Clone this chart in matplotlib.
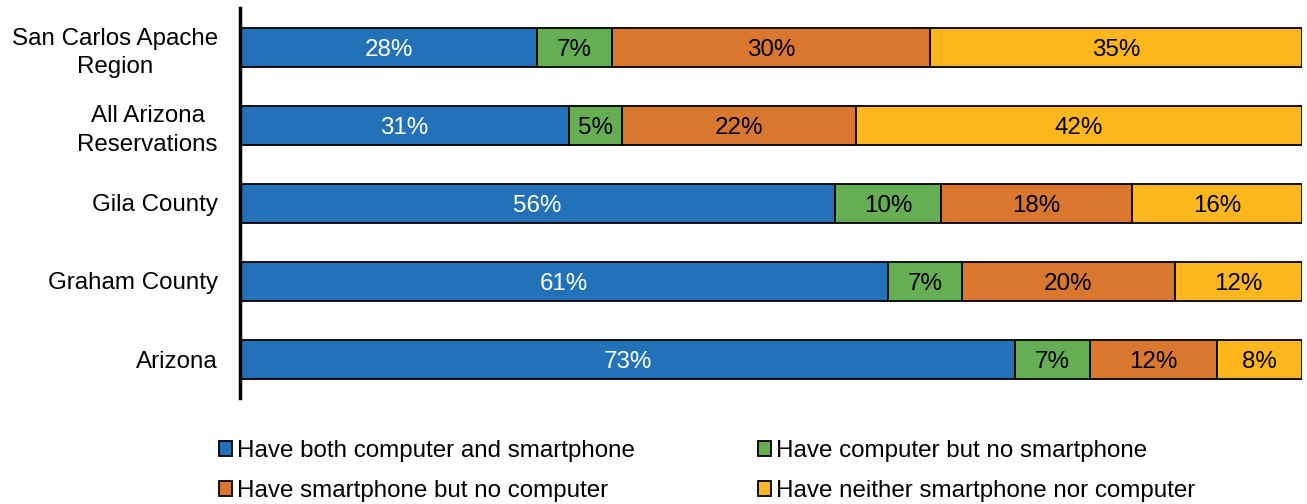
import numpy as np
import matplotlib.pyplot as plt

plt.rcParams['font.family'] = ['Liberation Sans', 'DejaVu Sans']

regions = ["San Carlos Apache\nRegion", "All Arizona\nReservations", "Gila County",
           "Graham County", "Arizona"]
series_names = ["Have both computer and smartphone", "Have computer but no smartphone",
                "Have smartphone but no computer", "Have neither smartphone nor computer"]
both = [28, 31, 56, 61, 73]
computer_only = [7, 5, 10, 7, 7]
phone_only = [30, 22, 18, 20, 12]
neither = [35, 42, 16, 12, 8]

colors = ['#2371B9', '#66AE53', '#D9772F', '#FDB71D']
text_colors = ['white', 'black', 'black', 'black']
fs = 17.4

fig = plt.figure(figsize=(13.07, 5.04), dpi=100)
ax = fig.add_axes([240 / 1307, 106 / 504, 1062 / 1307, 390 / 504])

y = np.arange(len(regions))
left = np.zeros(len(regions))
handles = []
for vals, name, col, tcol in zip([both, computer_only, phone_only, neither],
                                 series_names, colors, text_colors):
    bars = ax.barh(y, vals, left=left, height=0.5, color=col, edgecolor='black',
                   linewidth=1.3, label=name)
    handles.append(bars)
    for yi, l, v in zip(y, left, vals):
        ax.text(l + v / 2, yi, f"{v}%", ha='center', va='center_baseline',
                color=tcol, fontsize=fs)
    left += np.array(vals)

ax.set_xlim(0, 100)
ax.set_ylim(4.5, -0.5)
ax.set_yticks(y)
ax.set_yticklabels(regions, fontsize=fs, multialignment='center', linespacing=1.4)
ax.tick_params(axis='y', length=0, pad=16)
ax.set_xticks([])
for s in ['top', 'right', 'bottom']:
    ax.spines[s].set_visible(False)
ax.spines['left'].set_linewidth(2.5)

order = [0, 2, 1, 3]
fig.legend([handles[i] for i in order], [series_names[i] for i in order],
           loc='center', bbox_to_anchor=(707 / 1307, 1 - 471 / 504), ncol=2,
           frameon=False, fontsize=fs, handlelength=0.55, handleheight=0.55,
           handletextpad=0.2, columnspacing=5.1, labelspacing=0.75)

fig.savefig('out.png', dpi=100)
